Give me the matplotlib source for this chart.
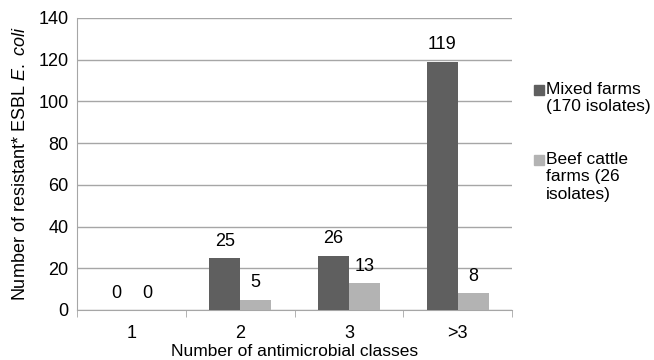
import matplotlib
matplotlib.use('Agg')
import matplotlib.pyplot as plt
import numpy as np

categories = ['1', '2', '3', '>3']
mixed = [0, 25, 26, 119]
beef = [0, 5, 13, 8]
series_names = ['Mixed farms\n(170 isolates)', 'Beef cattle\nfarms (26\nisolates)']

plt.rcParams['font.family'] = ['Liberation Sans', 'DejaVu Sans']
plt.rcParams['font.size'] = 12.5
plt.rcParams['mathtext.fontset'] = 'custom'
plt.rcParams['mathtext.it'] = 'Liberation Sans:italic'
plt.rcParams['mathtext.rm'] = 'Liberation Sans'

dark = '#5f5f5f'
light = '#b3b3b3'
grid = '#a6a6a6'

fig = plt.figure(figsize=(6.54, 3.6), dpi=100)
ax = fig.add_axes([77/654, 1 - 310/360, 435/654, 292/360])

x = np.arange(len(categories))
w = 0.285
b1 = ax.bar(x - w/2, mixed, w, color=dark, zorder=3)
b2 = ax.bar(x + w/2, beef, w, color=light, zorder=3)

for bars, vals in ((b1, mixed), (b2, beef)):
    for r, v in zip(bars, vals):
        ax.text(r.get_x() + r.get_width()/2, v + 4, str(v), ha='center', va='bottom', fontsize=13)

ax.set_xlim(-0.5, len(categories) - 0.5)
ax.set_ylim(0, 140)
ax.set_yticks(range(0, 141, 20))
ax.yaxis.grid(True, color=grid, linewidth=1, zorder=0)
ax.set_axisbelow(True)
ax.set_xticks(x)
ax.set_xticklabels(categories, fontsize=13)
ax.set_yticklabels([str(v) for v in range(0, 141, 20)], fontsize=13)
ax.set_xticks(np.arange(-0.5, len(categories)), minor=True)
ax.tick_params(axis='x', which='major', length=0, pad=11)
ax.tick_params(axis='x', which='minor', length=5, color=grid)
ax.tick_params(axis='y', length=0, pad=6)
for s in ['top', 'right']:
    ax.spines[s].set_visible(False)
ax.spines['left'].set_color(grid)
ax.spines['bottom'].set_color(grid)

ax.set_xlabel('Number of antimicrobial classes', labelpad=1)
ax.set_ylabel('Number of resistant* ESBL $\\mathit{E.\\ coli}$', labelpad=7, fontsize=13)

# legend drawn by hand to match layout
fig.patches.append(plt.Rectangle((534/654, 1 - 95/360), 10/654, 10/360, transform=fig.transFigure, color=dark))
fig.text(546/654, 1 - 82/360, series_names[0], va='top', ha='left', linespacing=1.2)
fig.patches.append(plt.Rectangle((534/654, 1 - 165/360), 10/654, 10/360, transform=fig.transFigure, color=light))
fig.text(546/654, 1 - 152/360, series_names[1], va='top', ha='left', linespacing=1.2)

fig.savefig('out.png', dpi=100)
